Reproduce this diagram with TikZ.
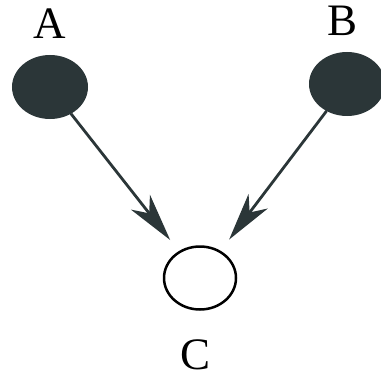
\documentclass[tikz,border=0pt]{standalone}
\usepackage{fontspec}
\setmainfont{Liberation Serif}
\usetikzlibrary{arrows.meta,positioning,shapes.geometric}
\definecolor{darkslate}{rgb}{0.17,0.21,0.22}
\tikzset{
  obs/.style={ellipse,draw=darkslate,fill=darkslate,line width=2pt,
    minimum width=74pt,minimum height=62pt,inner sep=0pt},
  hid/.style={ellipse,draw=black,line width=2.5pt,
    minimum width=72pt,minimum height=63pt,inner sep=0pt},
  lbl/.style={font=\fontsize{45}{48}\selectfont,inner sep=0pt},
  link/.style={draw=darkslate,line width=2.8pt,
    -{Stealth[length=48pt,width=24pt,inset=14pt]}}
}
\begin{document}
\begin{tikzpicture}[x=1pt,y=-1pt]
    \useasboundingbox (0,0) rectangle (380,382);
    \node[obs] (A) at (50,87) {};
    \node[obs] (B) at (347,84) {};
    \node[hid] (C) at (200,278) {};
    \node[lbl, above=16pt of A] (lA) {A};
    \node[lbl, above=16pt of B, xshift=-4pt] (lB) {B};
    \node[lbl, below=29pt of C, xshift=-4pt] (lC) {C};
    \draw[link, shorten >=14pt] (A) -- (C);
    \draw[link, shorten >=14pt] (B) -- (C);
\end{tikzpicture}
\end{document}
